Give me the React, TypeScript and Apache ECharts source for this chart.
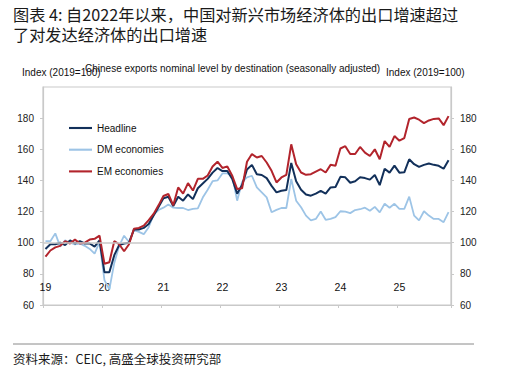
import React, { useEffect, useRef } from "react";
import * as echarts from "echarts";

const yearLabels = ["19", "20", "21", "22", "23", "24", "25"];
const seriesNames = ["Headline", "DM economies", "EM economies"];
const yTicks = [60, 80, 100, 120, 140, 160, 180, 200];

const headline2019 = [96, 99, 99, 100, 98.5, 101.5, 99.5, 101, 99.5, 99.5, 97.5, 101.5];
const headline2020 = [81, 81, 92, 98.5, 99.5, 100, 108.5, 108.5, 109.5, 112, 117.5, 123];
const headline2021 = [128.5, 129.5, 123.5, 129.5, 127, 131, 128, 135, 138, 141, 145, 148];
const headline2022 = [146, 146, 141, 131.5, 137, 147, 150, 144, 143.5, 141.5, 136.5, 132.3];
const headline2023 = [133.4, 133.8, 151.2, 139.5, 134, 131, 130.2, 131.5, 133.3, 131.5, 135.5, 135.8];
const headline2024 = [142.3, 142, 138.5, 139.5, 142, 141.5, 140.5, 143.5, 137, 147.5, 145, 149.5];
const headline2025 = [145, 145.2, 153.6, 150.4, 148.7, 150, 150.9, 150, 149.4, 147.5, 153];

const dm2019 = [101, 101, 106, 97.5, 101.5, 100, 99, 99.5, 98, 96, 93, 100.5];
const dm2020 = [76, 70, 87, 98, 104.5, 100.5, 108, 107, 105.5, 110, 118, 121];
const dm2021 = [122.5, 124.5, 122.5, 122.3, 122.3, 121, 121.7, 122, 129, 134, 139.5, 140];
const dm2022 = [144.5, 144.5, 143, 127, 139, 142, 143, 135.5, 132.3, 129.1, 119.6, 121.1];
const dm2023 = [122.3, 122.3, 140.9, 127, 122.8, 117.4, 114.3, 115.3, 120, 114.7, 115.3, 116.4];
const dm2024 = [120.2, 120, 119, 121, 121.5, 122.5, 120.5, 123, 119.5, 125, 122.5, 125];
const dm2025 = [121.7, 121.7, 129.6, 117.4, 114.3, 120.2, 117.4, 115.3, 115.3, 113.2, 119.6];

const em2019 = [91, 95, 97, 98, 101, 99.5, 102, 99.5, 100, 102, 102.5, 104.5];
const em2020 = [86.5, 87.5, 101, 99, 94.5, 99, 109, 109.5, 111, 114.5, 118.5, 124];
const em2021 = [130, 131.3, 124, 135.5, 131.5, 138.3, 133.5, 141, 141, 143.2, 149, 152];
const em2022 = [148, 149, 143, 134.5, 135, 152, 157, 154.7, 155.7, 151.5, 146.2, 138.7];
const em2023 = [141.9, 143.6, 163.2, 150.4, 145.1, 143.6, 144, 145.7, 147.2, 145.1, 150, 149.4];
const em2024 = [160.5, 162, 157, 157, 161.5, 157.9, 155.7, 160, 153.6, 165.3, 161.5, 168.5];
const em2025 = [165.5, 167.2, 179.5, 180.4, 179, 176.8, 178.5, 179.5, 179.8, 175.5, 181.3];

const headline = [...headline2019, ...headline2020, ...headline2021, ...headline2022, ...headline2023, ...headline2024, ...headline2025];
const dm = [...dm2019, ...dm2020, ...dm2021, ...dm2022, ...dm2023, ...dm2024, ...dm2025];
const em = [...em2019, ...em2020, ...em2021, ...em2022, ...em2023, ...em2024, ...em2025];

const categories: string[] = [];
yearLabels.forEach((y) => {
  for (let m = 1; m <= 12; m++) categories.push(y + "-" + (m < 10 ? "0" + m : "" + m));
});
const months = categories.slice(0, headline.length);

const LATIN = "Liberation Sans, Arial, sans-serif";
const CJK = "Noto Sans CJK SC, sans-serif";
const GRID_GRAY = "#c9c9c9";
const LEGEND_ICON = "path://M0,0 L24,0 L24,2.2 L0,2.2 Z";

export default function App() {
  const ref = useRef<HTMLDivElement>(null);
  useEffect(() => {
    if (!ref.current) return;
    const chart = echarts.init(ref.current, undefined, { renderer: "svg" });
    const yAxisCommon = {
      type: "value",
      min: yTicks[0],
      max: yTicks[yTicks.length - 1],
      interval: 20,
      splitLine: { show: false },
      axisLine: { show: true, lineStyle: { color: GRID_GRAY, width: 1.2 } },
      axisTick: { show: true, length: 3, lineStyle: { color: GRID_GRAY } },
      axisLabel: { showMaxLabel: false, color: "#222", fontSize: 10, fontFamily: LATIN, margin: 9 },
    };
    chart.setOption({
      animation: false,
      backgroundColor: "#fff",
      grid: {
        left: 43,
        right: 79,
        top: 87,
        bottom: 63,
        show: true,
        borderColor: GRID_GRAY,
        borderWidth: 1.2,
      },
      graphic: [
        {
          type: "text",
          x: 13,
          y: 14,
          style: {
            text: "图表 4: 自2022年以来，中国对新兴市场经济体的出口增速超过",
            fontSize: 16.2,
            lineHeight: 19,
            fontFamily: CJK,
            fill: "#1a1a1a",
            verticalAlign: "middle",
          },
        },
        {
          type: "text",
          x: 13,
          y: 33.5,
          style: {
            text: "了对发达经济体的出口增速",
            fontSize: 16.2,
            lineHeight: 19,
            fontFamily: CJK,
            fill: "#1a1a1a",
            verticalAlign: "middle",
          },
        },
        {
          type: "text",
          x: 85,
          y: 68,
          style: { text: "Chinese exports nominal level by destination (seasonally adjusted)", fontSize: 10, fontFamily: LATIN, fill: "#111", verticalAlign: "middle" },
        },
        {
          type: "text",
          x: 22,
          y: 72,
          style: { text: "Index (2019=100)", fontSize: 10, fontFamily: LATIN, fill: "#111", verticalAlign: "middle" },
        },
        {
          type: "text",
          x: 386,
          y: 72,
          style: { text: "Index (2019=100)", fontSize: 10, fontFamily: LATIN, fill: "#111", verticalAlign: "middle" },
        },
        {
          type: "line",
          shape: { x1: 13, y1: 344, x2: 474, y2: 344 },
          style: { stroke: "#8a8a8a", lineWidth: 1 },
        },
        {
          type: "text",
          x: 13,
          y: 358,
          style: { text: "资料来源：CEIC, 高盛全球投资研究部", fontSize: 12.5, fontFamily: CJK, fill: "#1a1a1a", verticalAlign: "middle" },
        },
      ],
      legend: {
        orient: "vertical",
        left: 64,
        top: 118,
        itemWidth: 23,
        itemHeight: 14,
        itemGap: 11.7,
        icon: LEGEND_ICON,
        data: seriesNames,
        textStyle: { fontSize: 10, fontFamily: LATIN, color: "#111" },
      },
      xAxis: {
        type: "category",
        data: months,
        boundaryGap: true,
        axisLine: { show: true, lineStyle: { color: GRID_GRAY, width: 1.2 } },
        axisTick: { show: true, length: 3, interval: (i: number) => i % 12 === 0, lineStyle: { color: GRID_GRAY } },
        axisLabel: {
          inside: true,
          margin: 13,
          interval: (i: number) => i % 12 === 0,
          formatter: (v: string) => v.split("-")[0],
          color: "#111",
          fontSize: 10.5,
          fontFamily: LATIN,
        },
        splitLine: { show: false },
      },
      yAxis: [
        { ...yAxisCommon, position: "left" },
        { ...yAxisCommon, position: "right" },
      ],
      series: [
        {
          name: seriesNames[1],
          type: "line",
          data: dm,
          showSymbol: false,
          symbol: "none",
          lineStyle: { color: "#9dc4e6", width: 1.8 },
          itemStyle: { color: "#9dc4e6" },
          markLine: {
            silent: true,
            symbol: "none",
            label: { show: false },
            lineStyle: { color: GRID_GRAY, width: 1.5, type: "solid" },
            data: [{ yAxis: 100 }],
          },
        },
        {
          name: seriesNames[0],
          type: "line",
          data: headline,
          showSymbol: false,
          symbol: "none",
          lineStyle: { color: "#12305a", width: 2 },
          itemStyle: { color: "#12305a" },
        },
        {
          name: seriesNames[2],
          type: "line",
          data: em,
          showSymbol: false,
          symbol: "none",
          lineStyle: { color: "#b2242c", width: 2 },
          itemStyle: { color: "#b2242c" },
        },
      ],
    });
    return () => chart.dispose();
  }, []);
  return <div ref={ref} style={{ position: "absolute", left: 0, top: 0, width: 530, height: 368 }} />;
}
